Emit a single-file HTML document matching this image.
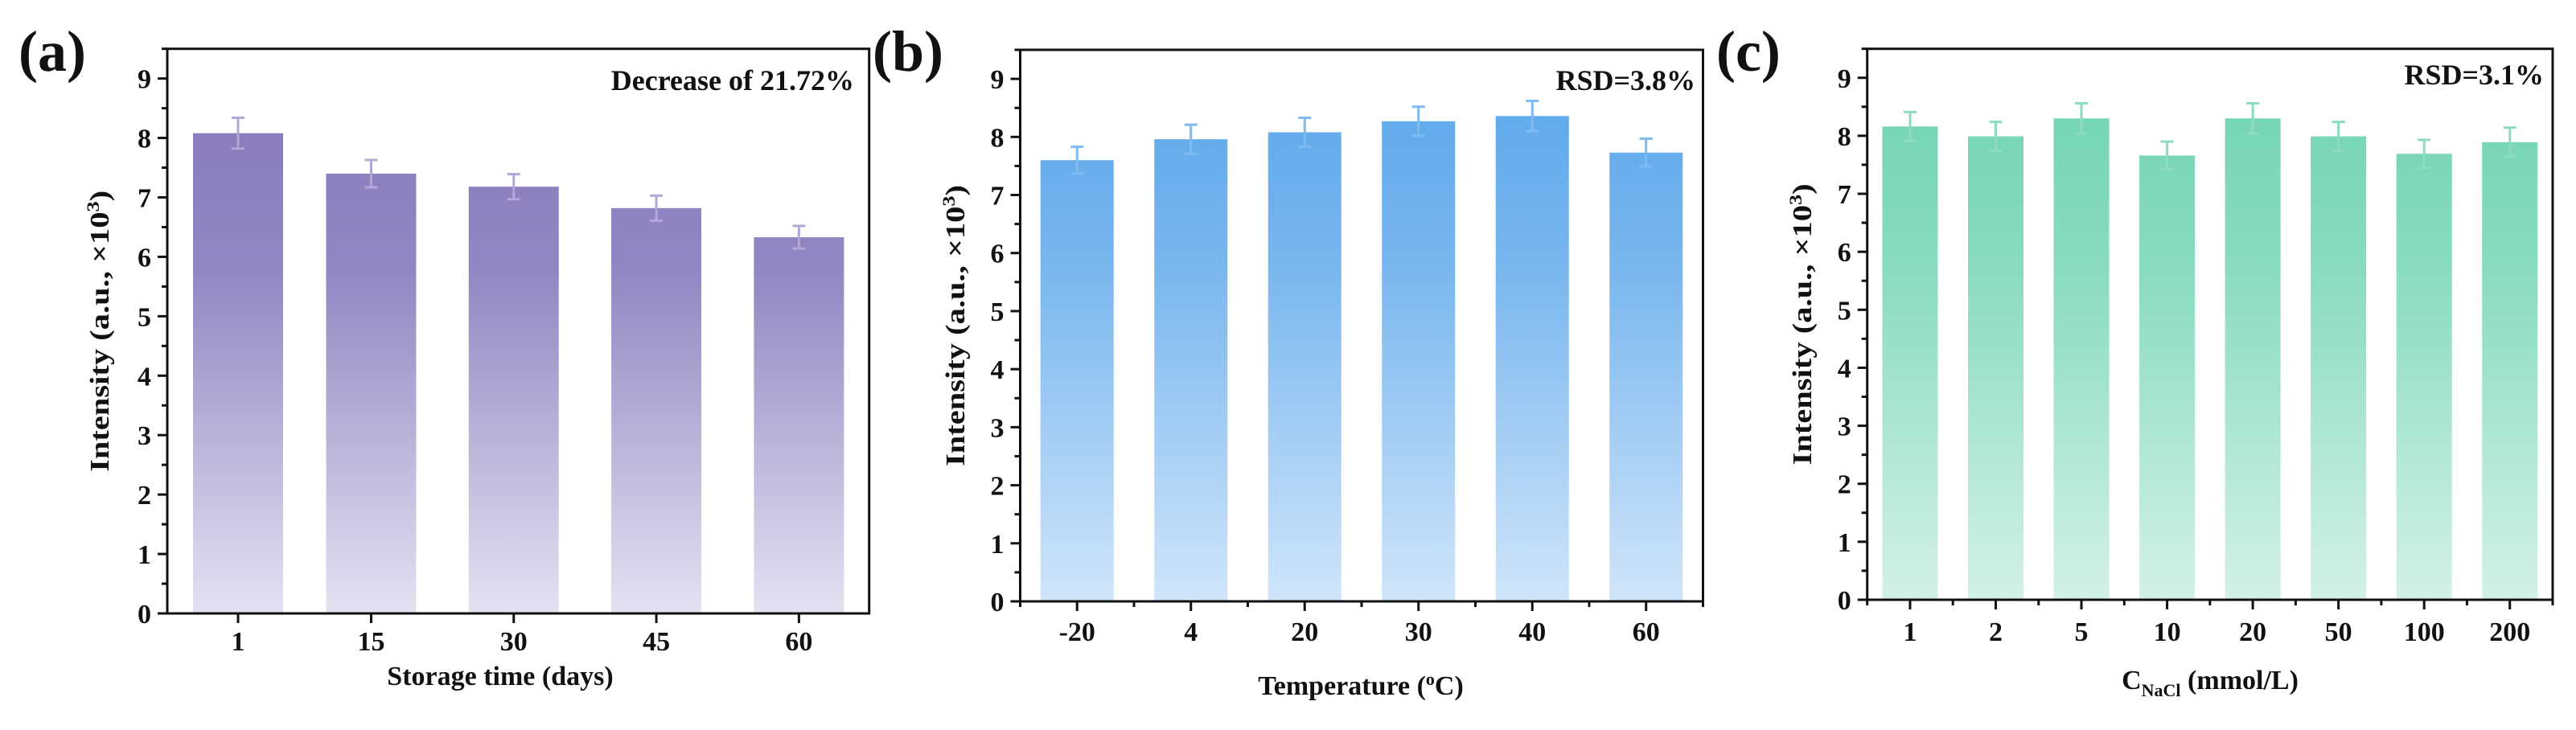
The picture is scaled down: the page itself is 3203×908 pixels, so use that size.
<!DOCTYPE html>
<html><head><meta charset="utf-8">
<style>
html,body{margin:0;padding:0;background:#fff;}
svg{display:block;}
text{font-family:"Liberation Serif","DejaVu Serif",serif;font-weight:bold;fill:#111;}
</style></head>
<body>
<svg id="fig" width="3203" height="908" viewBox="0 0 3203 908" xmlns="http://www.w3.org/2000/svg" font-family="'Liberation Serif', 'DejaVu Serif', serif" font-weight="bold">
<defs>
<linearGradient id="gA" gradientUnits="userSpaceOnUse" x1="0" y1="150" x2="0" y2="763"><stop offset="0" stop-color="#8a7cbd"/><stop offset="0.3" stop-color="#9186c2"/><stop offset="1" stop-color="#e5e1f1"/></linearGradient>
<linearGradient id="gB" gradientUnits="userSpaceOnUse" x1="0" y1="150" x2="0" y2="748"><stop offset="0" stop-color="#62abec"/><stop offset="0.3" stop-color="#78b6ee"/><stop offset="1" stop-color="#d0e5fa"/></linearGradient>
<linearGradient id="gC" gradientUnits="userSpaceOnUse" x1="0" y1="150" x2="0" y2="746"><stop offset="0" stop-color="#77d5b7"/><stop offset="0.3" stop-color="#88dbc0"/><stop offset="1" stop-color="#d3f1e7"/></linearGradient>
</defs>
</svg>
<script>
// Panel (a) data
const aDays = [1, 15, 30, 45, 60];
const aValues = [8.08, 7.40, 7.18, 6.82, 6.33];
const aErrors = [0.26, 0.23, 0.21, 0.21, 0.19];
// Panel (b) data
const bCategories = ["-20", "4", "20", "30", "40", "60"];
const bValues = [7.60, 7.96, 8.08, 8.27, 8.36, 7.73];
const bErrors = [0.23, 0.25, 0.25, 0.25, 0.26, 0.24];
// Panel (c) data
const cCategories = ["1", "2", "5", "10", "20", "50", "100", "200"];
const cValues = [8.16, 7.99, 8.30, 7.66, 8.30, 7.99, 7.69, 7.89];
const cErrors = [0.25, 0.25, 0.26, 0.24, 0.26, 0.25, 0.24, 0.25];
const yTicks = [0,1,2,3,4,5,6,7,8,9];

const svg = document.getElementById('fig');
const NS = 'http://www.w3.org/2000/svg';
function mk(tag, attrs, parent){const e=document.createElementNS(NS,tag);for(const k in attrs)e.setAttribute(k,attrs[k]);(parent||svg).appendChild(e);return e;}

function panel(o){
  const g = mk('g',{});
  
  
  const y = v => o.y0 - (o.y0 - o.top) * v / 9.5;
  const x = o.xf;
  o.values.forEach((v,i)=>{
    const cx = x(i);
    const r = mk('rect',{x:cx-o.bw/2,y:y(v),width:o.bw,height:o.y0-y(v),fill:'url(#'+o.grad+')'},g);
    
    
    const e = o.errors[i];
    const eb = mk('path',{d:`M${cx},${y(v+e)}V${y(v-e)}M${cx-8},${y(v+e)}H${cx+8}M${cx-8},${y(v-e)}H${cx+8}`,stroke:o.ecol,'stroke-width':3,fill:'none'},g);
    
    
  });
  const fr = mk('rect',{x:o.left,y:o.top,width:o.right-o.left,height:o.y0-o.top,fill:'none',stroke:'#111','stroke-width':3},g);
  
  
  yTicks.forEach(t=>{
    mk('line',{x1:o.left-12,x2:o.left,y1:y(t),y2:y(t),stroke:'#111','stroke-width':3},g);
    mk('line',{x1:o.left-7,x2:o.left,y1:y(t+0.5),y2:y(t+0.5),stroke:'#111','stroke-width':3},g);
    const tl = mk('text',{x:o.left-20,y:y(t)+12,'text-anchor':'end','font-size':34},g);
    tl.textContent = t;
    
    
  });
  o.labels.forEach((l,i)=>{
    const cx = x(i);
    mk('line',{x1:cx,x2:cx,y1:o.y0,y2:o.y0+12,stroke:'#111','stroke-width':3},g);
    if(o.minor){ mk('line',{x1:cx+o.step/2,x2:cx+o.step/2,y1:o.y0,y2:o.y0+7,stroke:'#111','stroke-width':3},g);
      if(i===0) mk('line',{x1:cx-o.step/2,x2:cx-o.step/2,y1:o.y0,y2:o.y0+7,stroke:'#111','stroke-width':3},g);}
    const tl = mk('text',{x:cx,y:o.xlabY,'text-anchor':'middle','font-size':34},g);
    tl.textContent = l;
    
    
  });
  const yt = mk('text',{x:0,y:0,'text-anchor':'middle','font-size':34,textLength:350,lengthAdjust:'spacingAndGlyphs',transform:`translate(${o.ytX},${(o.top+o.y0)/2}) rotate(-90)`},g);
  yt.innerHTML = 'Intensity (a.u., ×10<tspan dy="-12" font-size="22">3</tspan><tspan dy="12">)</tspan>';
  
  
  const xt = mk('text',{x:o.xtX,y:o.xtY,'text-anchor':'middle','font-size':34},g);
  xt.innerHTML = o.xtitle;
  
  
  const an = mk('text',{x:o.annX,y:o.annY,'text-anchor':'end','font-size':36},g);
  an.textContent = o.ann;
  
  
  const pl = mk('text',{x:o.letX,y:88,'font-size':72},g);
  pl.textContent = o.letter;
  
  
}

const aPx = 11.82, aX1 = 296;
panel({name:'panel-a',left:208,right:1080.7,top:60.7,y0:763,bw:112,labels:aDays.map(String),values:aValues,errors:aErrors,
  xf:i=>aX1+(aDays[i]-aDays[0])*aPx,minor:false,grad:'gA',ecol:'#b2a7d8',xlabY:809,ytX:135,xtX:622,xtY:852,
  xtitle:'Storage time (days)',ann:'Decrease of 21.72%',annX:1062,annY:112,letter:'(a)',letX:23});
const bL=1268.5,bR=2117.5,bStep=(bR-bL)/bCategories.length;
panel({name:'panel-b',left:bL,right:bR,top:62,y0:748,bw:91,step:bStep,labels:bCategories,values:bValues,errors:bErrors,
  xf:i=>bL+bStep*(i+0.5),minor:true,grad:'gB',ecol:'#7fbaf0',xlabY:797,ytX:1199,xtX:1692,xtY:864,
  xtitle:'Temperature (<tspan dy="-12" font-size="22">o</tspan><tspan dy="12">C)</tspan>',ann:'RSD=3.8%',annX:2108,annY:112,letter:'(b)',letX:1085});
const cL=2321.7,cR=3174,cStep=(cR-cL)/cCategories.length;
panel({name:'panel-c',left:cL,right:cR,top:60.7,y0:746,bw:69,step:cStep,labels:cCategories,values:cValues,errors:cErrors,
  xf:i=>cL+cStep*(i+0.5),minor:true,grad:'gC',ecol:'#8edbc3',xlabY:797,ytX:2252,xtX:2748,xtY:857,
  xtitle:'C<tspan dy="9" font-size="22">NaCl</tspan><tspan dy="-9"> (mmol/L)</tspan>',ann:'RSD=3.1%',annX:3163,annY:105,letter:'(c)',letX:2134});
</script>
</body></html>
